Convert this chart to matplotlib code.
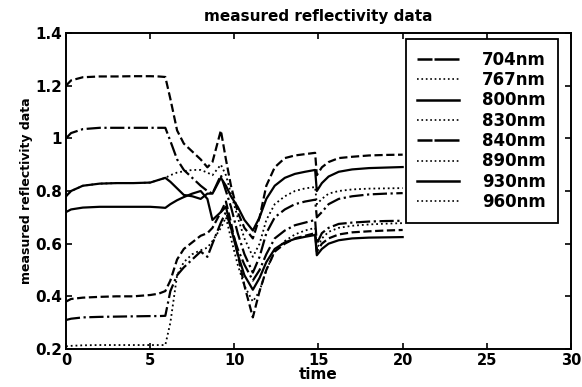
import matplotlib
matplotlib.use("Agg")
import matplotlib.pyplot as plt

# sample times (shared by all curves)
t = [0, 0.3, 1, 2, 3, 4, 5, 5.5, 5.9, 6.2, 6.6, 7.0, 7.5, 8.0, 8.4, 8.7, 9.2, 9.5, 9.8,
     10.2, 10.6, 11.1, 11.5, 11.9, 12.4, 13.0, 13.6, 14.2, 14.8, 14.9, 15.2, 15.6, 16.2,
     17, 18, 19, 20]

r704 = [1.20, 1.22, 1.232, 1.235, 1.235, 1.236, 1.236, 1.235, 1.233, 1.15, 1.03, 0.98, 0.95,
        0.92, 0.89, 0.91, 1.03, 0.92, 0.82, 0.72, 0.66, 0.62, 0.70, 0.82, 0.89, 0.925, 0.935,
        0.94, 0.945, 0.86, 0.89, 0.91, 0.925, 0.93, 0.935, 0.937, 0.938]
r767 = [1.00, 1.02, 1.035, 1.04, 1.04, 1.04, 1.04, 1.04, 1.04, 0.99, 0.92, 0.88, 0.85,
        0.82, 0.80, 0.79, 0.86, 0.80, 0.74, 0.64, 0.56, 0.49, 0.55, 0.64, 0.70, 0.73, 0.75,
        0.76, 0.767, 0.70, 0.72, 0.75, 0.77, 0.78, 0.787, 0.79, 0.792]
r800 = [0.78, 0.80, 0.82, 0.828, 0.83, 0.83, 0.832, 0.842, 0.85, 0.835, 0.81, 0.785, 0.78,
        0.77, 0.79, 0.79, 0.85, 0.82, 0.78, 0.74, 0.69, 0.65, 0.70, 0.77, 0.82, 0.85, 0.865,
        0.873, 0.88, 0.80, 0.83, 0.855, 0.873, 0.882, 0.887, 0.889, 0.891]
r830 = [0.78, 0.80, 0.82, 0.828, 0.83, 0.83, 0.832, 0.842, 0.85, 0.86, 0.87, 0.875, 0.88,
        0.88, 0.87, 0.86, 0.90, 0.86, 0.79, 0.70, 0.62, 0.55, 0.60, 0.69, 0.75, 0.78, 0.80,
        0.81, 0.815, 0.75, 0.77, 0.79, 0.80, 0.806, 0.809, 0.81, 0.811]
r840 = [0.38, 0.39, 0.395, 0.398, 0.40, 0.40, 0.405, 0.41, 0.42, 0.46, 0.54, 0.58, 0.605,
        0.63, 0.64, 0.66, 0.72, 0.76, 0.68, 0.56, 0.44, 0.32, 0.42, 0.50, 0.57, 0.60, 0.62,
        0.63, 0.64, 0.57, 0.60, 0.62, 0.635, 0.643, 0.647, 0.65, 0.652]
r890 = [0.31, 0.315, 0.32, 0.322, 0.323, 0.324, 0.325, 0.325, 0.326, 0.42, 0.48, 0.51, 0.54,
        0.57, 0.55, 0.60, 0.68, 0.72, 0.66, 0.58, 0.52, 0.46, 0.50, 0.56, 0.62, 0.65, 0.67,
        0.68, 0.69, 0.60, 0.64, 0.66, 0.675, 0.68, 0.684, 0.686, 0.687]
r930 = [0.72, 0.73, 0.737, 0.74, 0.74, 0.74, 0.74, 0.738, 0.736, 0.75, 0.765, 0.777, 0.79,
        0.80, 0.77, 0.69, 0.72, 0.74, 0.66, 0.56, 0.48, 0.425, 0.47, 0.53, 0.58, 0.605, 0.618,
        0.626, 0.633, 0.556, 0.58, 0.60, 0.613, 0.62, 0.623, 0.624, 0.625]
r960 = [0.21, 0.212, 0.214, 0.215, 0.215, 0.215, 0.215, 0.215, 0.215, 0.30, 0.48, 0.53, 0.56,
        0.575, 0.585, 0.61, 0.66, 0.70, 0.62, 0.52, 0.44, 0.38, 0.42, 0.50, 0.57, 0.61, 0.635,
        0.65, 0.66, 0.58, 0.62, 0.645, 0.66, 0.668, 0.673, 0.676, 0.678]

labels = ["704nm", "767nm", "800nm", "830nm", "840nm", "890nm", "930nm", "960nm"]
series = [r704, r767, r800, r830, r840, r890, r930, r960]
plot_styles = ["--", "-.", "-", ":", "--", "-.", "-", ":"]
# the legend swatches in the scan read as near-solid / dotted
legend_styles = [(4, (10, 0.8)), ":", "-", ":", (4, (10, 0.8)), ":", "-", ":"]

xticks = [0, 5, 10, 15, 20, 25, 30]
yticks = [0.2, 0.4, 0.6, 0.8, 1.0, 1.2, 1.4]
yticklabels = ["0.2", "0.4", "0.6", "0.8", "1", "1.2", "1.4"]

plt.rcParams["font.family"] = ["DejaVu Sans"]
plt.rcParams["font.weight"] = "bold"

fig = plt.figure(figsize=(5.82, 3.87), dpi=100)
ax = fig.add_axes([0.1134, 0.0982, 0.8677, 0.8165])

for vals, ls in zip(series, plot_styles):
    lw = 1.3 if ls == ":" else 1.6
    ax.plot(t, vals, color="black", ls=ls, lw=lw)

ax.set_xlim(0, 30)
ax.set_ylim(0.2, 1.4)
ax.set_xticks(xticks)
ax.set_yticks(yticks)
ax.set_yticklabels(yticklabels)
ax.tick_params(direction="in", top=True, right=True, length=4, width=1.2,
               labelsize=11, pad=3)
ax.tick_params(axis="x", pad=3, labelsize=10.5)
for s in ax.spines.values():
    s.set_linewidth(1.4)

ax.set_title("measured reflectivity data", fontsize=11, fontweight="bold", pad=9)
ax.set_xlabel("time", fontsize=11, fontweight="bold", labelpad=-1)
ax.set_ylabel("measured reflectivity data", fontsize=9, fontweight="bold", labelpad=1)

leg = ax.legend(ax.get_lines(), labels, loc="upper right",
                bbox_to_anchor=(0.974, 0.981), borderaxespad=0, fontsize=12,
                handlelength=2.5, handletextpad=1.4, labelspacing=0.14,
                frameon=True, fancybox=False, framealpha=1, borderpad=0.7)
leg.get_frame().set_edgecolor("black")
leg.get_frame().set_linewidth(1.3)
for ln, ls in zip(leg.get_lines(), legend_styles):
    ln.set_linestyle(ls)
    ln.set_linewidth(1.2 if ls == ":" else 1.8)

fig.savefig("out.png", dpi=100)
